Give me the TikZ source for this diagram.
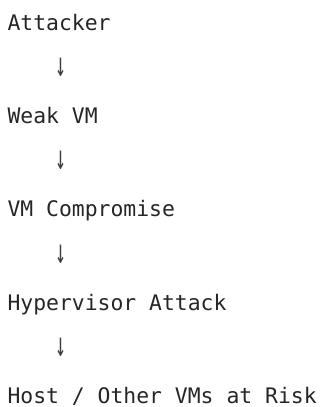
\documentclass[tikz,border=0pt]{standalone}
\usepackage{fontspec}
\setmonofont{DejaVu Sans Mono}
\begin{document}
\begin{tikzpicture}[x=1pt,y=1pt,
  lbl/.style={anchor=base west,inner sep=0pt,font=\ttfamily\fontsize{21.4}{21.4}\selectfont,text=black!85},
  arr/.style={anchor=center,inner sep=0pt,font=\ttfamily\fontsize{21.4}{21.4}\selectfont,text=black!75,transform shape,xscale=0.85,yscale=1.6}]
\useasboundingbox (0,0) rectangle (323,-407);
\node[lbl] (a) at (7.3,-30.2) {Attacker};
\node[arr] (a1) at (60.7,-67.2) {↓};
\node[lbl] (b) at (7.3,-123.5) {Weak VM};
\node[arr] (a2) at (60.7,-160.5) {↓};
\node[lbl] (c) at (7.3,-216.8) {VM Compromise};
\node[arr] (a3) at (60.7,-253.8) {↓};
\node[lbl] (d) at (7.3,-310.1) {Hypervisor Attack};
\node[arr] (a4) at (60.7,-347.1) {↓};
\node[lbl] (e) at (7.3,-403.0) {Host / Other VMs at Risk};
\end{tikzpicture}
\end{document}
